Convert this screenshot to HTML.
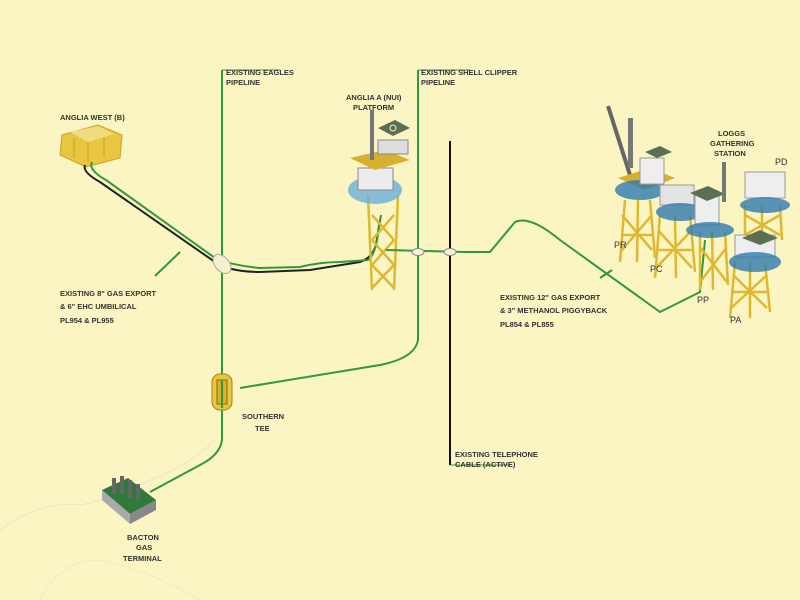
<!DOCTYPE html>
<html><head><meta charset="utf-8"><style>
html,body{margin:0;padding:0;background:#fbf5c3;}
svg{display:block}
text{font-family:"Liberation Sans",sans-serif;font-size:7.5px;font-weight:bold;fill:#333;}
</style></head><body>
<svg width="800" height="600" viewBox="0 0 800 600">
<rect width="800" height="600" fill="#fbf5c3"/>
<path d="M0 530 Q40 500 80 505 Q110 500 150 480 Q190 465 215 440" fill="none" stroke="#e8e4c8" stroke-width="1"/>
<path d="M40 600 Q60 560 100 560 Q150 570 200 600" fill="none" stroke="#ece8cc" stroke-width="1"/>

<path d="M222 70 L222 380" stroke="#2f9a3a" stroke-width="2" fill="none"/>
<path d="M222 408 L222 440 Q220 455 200 465 L150 492" stroke="#2f9a3a" stroke-width="2" fill="none"/>
<line x1="222" y1="70" x2="280" y2="70" stroke="#2f9a3a" stroke-width="1"/>
<text x="226" y="75">EXISTING EAGLES</text>
<text x="226" y="85">PIPELINE</text>

<path d="M418 70 L418 340 Q415 358 380 365 L240 388" stroke="#2f9a3a" stroke-width="2" fill="none"/>
<line x1="418" y1="70" x2="470" y2="70" stroke="#2f9a3a" stroke-width="1"/>
<text x="421" y="75">EXISTING SHELL CLIPPER</text>
<text x="421" y="85">PIPELINE</text>

<line x1="450" y1="141" x2="450" y2="465" stroke="#111" stroke-width="2"/>
<line x1="450" y1="465" x2="510" y2="465" stroke="#2f9a3a" stroke-width="1"/>
<text x="455" y="457">EXISTING TELEPHONE</text>
<text x="455" y="467">CABLE (ACTIVE)</text>

<g>
<path d="M62 135 L98 125 L122 135 L120 158 L86 167 L60 155 Z" fill="#e8c640" stroke="#c9a020"/>
<path d="M70 132 L98 126 L114 134 L88 142 Z" fill="#f2dc80"/>
<path d="M88 142 L88 162 M74 138 L74 158 M104 138 L104 157" stroke="#c9a020"/>
</g>
<text x="60" y="120">ANGLIA WEST (B)</text>
<path d="M85 165 Q82 172 100 182 L215 262 Q230 272 260 272 L310 270 L360 262 Q372 258 376 245 L380 220" stroke="#222" stroke-width="2" fill="none"/>
<path d="M92 162 Q88 170 106 180 L215 258 Q230 265 260 268 L300 267 Q320 262 340 262 L368 260 Q374 256 377 240 L381 215" stroke="#2f9a3a" stroke-width="2" fill="none"/>
<ellipse cx="222" cy="264" rx="7" ry="11" fill="#f5f0d0" stroke="#aaa" transform="rotate(-40 222 264)"/>
<line x1="155" y1="276" x2="180" y2="252" stroke="#2f9a3a" stroke-width="2"/>
<text x="60" y="296">EXISTING 8" GAS EXPORT</text>
<text x="60" y="309">&amp; 6" EHC UMBILICAL</text>
<text x="60" y="323">PL954 &amp; PL955</text>

<g>
<path d="M368 195 L372 290 M398 195 L394 290 M372 215 L394 240 M394 215 L372 240 M372 240 L394 265 M394 240 L372 265 M372 265 L394 288 M394 265 L372 288" stroke="#e0b830" stroke-width="2.5" fill="none"/>
<ellipse cx="375" cy="190" rx="27" ry="14" fill="#6aaedc" opacity="0.8"/>
<rect x="358" y="168" width="35" height="22" fill="#ececec" stroke="#888"/>
<path d="M350 158 L385 150 L410 160 L375 170 Z" fill="#d8b030"/>
<rect x="370" y="110" width="4" height="50" fill="#777"/>
<rect x="378" y="140" width="30" height="14" fill="#ddd" stroke="#888"/>
<path d="M378 128 L395 120 L410 128 L393 136 Z" fill="#5a7050"/>
<circle cx="393" cy="128" r="3" fill="none" stroke="#eee"/>
</g>
<text x="346" y="100">ANGLIA A (NUI)</text>
<text x="353" y="110">PLATFORM</text>

<path d="M386 250 L465 252 L490 252 L515 222 Q530 215 560 240 L660 312 L700 292 L705 240" stroke="#2f9a3a" stroke-width="2" fill="none"/>
<ellipse cx="418" cy="252" rx="6" ry="3.5" fill="#f5f0d0" stroke="#888"/>
<ellipse cx="450" cy="252" rx="6" ry="3.5" fill="#f5f0d0" stroke="#888"/>
<line x1="600" y1="278" x2="612" y2="270" stroke="#2f9a3a" stroke-width="2"/>
<text x="500" y="300">EXISTING 12" GAS EXPORT</text>
<text x="500" y="313">&amp; 3" METHANOL PIGGYBACK</text>
<text x="500" y="327">PL854 &amp; PL855</text>

<g>
<rect x="212" y="374" width="20" height="36" rx="8" fill="#e8c640" stroke="#a68018"/>
<rect x="217" y="380" width="10" height="24" fill="#d8b030" stroke="#8a6a10"/>
<line x1="222" y1="380" x2="222" y2="408" stroke="#2f9a3a" stroke-width="2"/>
</g>
<text x="242" y="419">SOUTHERN</text>
<text x="255" y="431">TEE</text>

<g>
<path d="M102 490 L128 478 L156 500 L130 514 Z" fill="#2f7a3a"/>
<path d="M102 490 L130 514 L130 524 L102 500 Z" fill="#aaa"/>
<path d="M130 514 L156 500 L156 510 L130 524 Z" fill="#888"/>
<rect x="112" y="478" width="4" height="16" fill="#666"/>
<rect x="120" y="476" width="4" height="18" fill="#666"/>
<rect x="128" y="480" width="4" height="18" fill="#666"/>
<rect x="136" y="484" width="4" height="16" fill="#666"/>
</g>
<text x="127" y="540">BACTON</text>
<text x="136" y="550">GAS</text>
<text x="123" y="561">TERMINAL</text>

<g stroke="#e0b830" stroke-width="2.5" fill="none">
<path d="M625 200 L620 262 M638 200 L637 262 M650 200 L655 258 M622 215 L652 250 M652 215 L622 250 M622 235 L652 235"/>
<path d="M660 215 L655 278 M675 215 L676 278 M690 215 L695 272 M658 230 L692 268 M692 230 L656 268 M658 250 L692 250"/>
<path d="M700 232 L700 290 M712 232 L713 290 M725 232 L728 285 M700 247 L727 282 M727 247 L700 282"/>
<path d="M735 262 L730 318 M750 262 L750 318 M765 262 L770 312 M733 275 L767 308 M767 275 L731 308 M733 292 L767 292"/>
<path d="M745 205 L745 245 M762 205 L762 240 M780 205 L782 240 M745 215 L780 235 M780 215 L745 235"/>
</g>
<g>
<path d="M608 106 L630 175" stroke="#666" stroke-width="4"/>
<rect x="628" y="118" width="5" height="50" fill="#777"/>
<path d="M618 178 L650 168 L675 178 L645 190 Z" fill="#d8b030"/>
<ellipse cx="640" cy="190" rx="25" ry="10" fill="#2f7ab0" opacity="0.8"/>
<rect x="640" y="158" width="24" height="26" fill="#eee" stroke="#999"/>
<path d="M645 152 L660 146 L672 152 L657 158 Z" fill="#5a7050"/>
<rect x="660" y="185" width="34" height="20" fill="#e4e4e4" stroke="#999"/>
<ellipse cx="680" cy="212" rx="24" ry="9" fill="#2f7ab0" opacity="0.8"/>
<rect x="695" y="195" width="24" height="30" fill="#eee" stroke="#999"/>
<path d="M690 193 L708 186 L725 194 L707 201 Z" fill="#5a7050"/>
<ellipse cx="710" cy="230" rx="24" ry="8" fill="#2f7ab0" opacity="0.8"/>
<rect x="722" y="162" width="4" height="40" fill="#777"/>
<rect x="745" y="172" width="40" height="26" fill="#eee" stroke="#999"/>
<ellipse cx="765" cy="205" rx="25" ry="8" fill="#2f7ab0" opacity="0.8"/>
<rect x="735" y="235" width="40" height="22" fill="#eee" stroke="#999"/>
<path d="M742 238 L760 230 L778 238 L760 245 Z" fill="#5a7050"/>
<ellipse cx="755" cy="262" rx="26" ry="10" fill="#2f7ab0" opacity="0.8"/>
</g>
<text x="718" y="136">LOGGS</text>
<text x="710" y="146">GATHERING</text>
<text x="714" y="156">STATION</text>
<text x="775" y="165" style="font-size:9px;font-weight:normal">PD</text>
<text x="614" y="248" style="font-size:9px;font-weight:normal">PR</text>
<text x="650" y="272" style="font-size:9px;font-weight:normal">PC</text>
<text x="697" y="303" style="font-size:9px;font-weight:normal">PP</text>
<text x="730" y="323" style="font-size:9px;font-weight:normal">PA</text>
</svg>
</body></html>
